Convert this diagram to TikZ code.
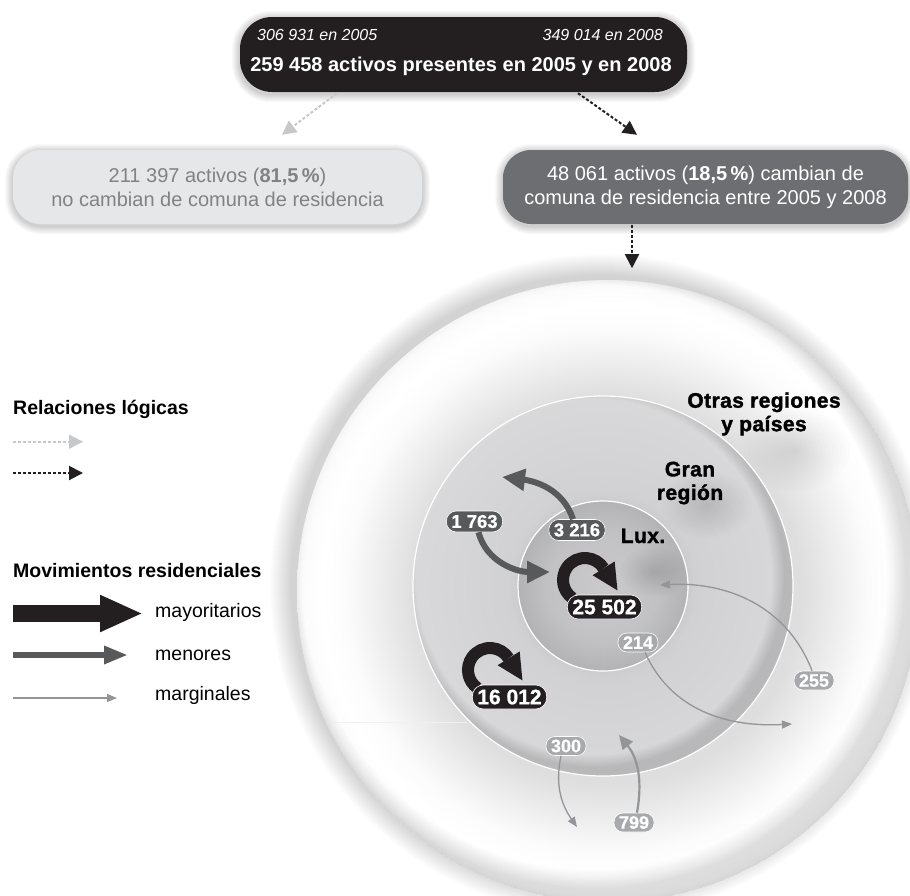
\documentclass[tikz,border=0pt]{standalone}
\usepackage{fontspec}
\setmainfont{Liberation Sans}
\usetikzlibrary{arrows.meta,calc}

\definecolor{blk}{HTML}{231F20}
\definecolor{dgray}{HTML}{58595B}
\definecolor{boxdark}{HTML}{6D6E71}
\definecolor{boxlight}{HTML}{E6E7E8}
\definecolor{txtgray}{HTML}{808285}
\definecolor{thingray}{HTML}{939598}
\definecolor{lgdash}{HTML}{C7C8CA}
\definecolor{pillsm}{HTML}{A7A9AC}

\pgfdeclareradialshading{outerdisk}{\pgfpoint{0bp}{0bp}}{rgb(0bp)=(.86,.86,.86); rgb(15.5bp)=(.87,.87,.87); rgb(17bp)=(.90,.90,.90); rgb(21bp)=(.985,.985,.985); rgb(23bp)=(1,1,1); rgb(24.5bp)=(.985,.985,.985); rgb(25bp)=(.96,.96,.96); rgb(50bp)=(.96,.96,.96)}
\pgfdeclareradialshading{middisk}{\pgfpoint{0bp}{0bp}}{rgb(0bp)=(.80,.80,.81); rgb(11.2bp)=(.80,.80,.81); rgb(12.5bp)=(.82,.82,.83); rgb(25bp)=(.85,.85,.855); rgb(50bp)=(.85,.85,.855)}
\pgfdeclareradialshading{innerdisk}{\pgfpoint{0bp}{0bp}}{rgb(0bp)=(.79,.79,.80); rgb(16bp)=(.76,.76,.77); rgb(25bp)=(.70,.70,.71); rgb(50bp)=(.70,.70,.71)}

\tikzset{
  lgarrow/.style={lgdash, line width=2pt, dash pattern=on 3pt off 2pt, -{Triangle[width=14pt,length=14pt]}},
  bkarrow/.style={blk, line width=2pt, dash pattern=on 3pt off 2pt, -{Triangle[width=14pt,length=14pt]}},
  medarrow/.style={dgray, line width=6pt, -{Triangle[width=21pt,length=23pt]}},
  thinarrow/.style={thingray, line width=1.3pt, -{Triangle[width=8pt,length=10pt]}},
  bigarrow/.style={blk, line width=17pt, -{Triangle[width=34pt,length=43pt]}},
  cloop/.style={blk, line width=12pt},
  pill/.style={rounded corners=#1, inner xsep=5pt, inner ysep=0pt, text=white, draw=white, line width=0.6pt},
  pillbig/.style={pill=11pt, fill=blk, minimum height=24pt, font=\fontsize{21}{21}\selectfont\bfseries\addfontfeature{FakeBold=0.8}},
  pillmed/.style={pill=10pt, fill=dgray, minimum height=21pt, font=\fontsize{18.5}{18.5}\selectfont\bfseries\addfontfeature{FakeBold=0.8}},
  pillsmall/.style={pill=9pt, fill=pillsm, minimum height=19pt, font=\fontsize{18}{18}\selectfont\bfseries\addfontfeature{FakeBold=0.8}},
  boxbase/.style={rounded corners=28pt, minimum height=74pt, align=center, font=\fontsize{20}{24}\selectfont},
  legtitle/.style={anchor=base west, inner sep=0pt, font=\fontsize{19.5}{19.5}\selectfont\bfseries},
  legtext/.style={anchor=base west, inner sep=0pt, font=\fontsize{19.5}{19.5}\selectfont},
  zonefont/.style={font=\fontsize{21}{23.5}\selectfont\bfseries\addfontfeature{LetterSpace=2,FakeBold=1.6}},
  zonelabel/.style={align=center, inner sep=0pt, zonefont},
}

\newcommand{\boxshadow}[5]{%
  \foreach \k in {2,4,...,16} {\draw[black, opacity=0.022, line width=\k pt, rounded corners=#5] (#1,#2) rectangle (#3,#4);}}
\newcommand{\blob}[4]{%
  \foreach \k in {1,...,14} {\fill[black, opacity=#4] (#1,#2) ellipse[x radius=#3*\k/14, y radius=0.75*#3*\k/14];}}
% inner shadow: centre x, centre y, radius, offset dx, offset dy, opacity, step
\newcommand{\innershadow}[7]{%
  \begin{scope}
    \clip (#1,#2) circle[radius=#3];
    \foreach \k in {0,...,15} {\fill[black, opacity=#6, even odd rule] (#1,#2) circle[radius=#3+2] (#1+#4,#2+#5) circle[radius=#3-\k*#7];}
  \end{scope}}

\begin{document}
\begin{tikzpicture}[x=1pt,y=1pt]
\useasboundingbox (0,0) rectangle (910,-895);
\fill[white] (0,0) rectangle (910,-895);

% ---------- circles ----------
\coordinate (ctr) at (603,-586);
\foreach \i in {1,...,22} {\fill[black, opacity=0.008] (601,-585) circle[radius=309+\i];}
\shade[shading=outerdisk] (608,-591) circle[radius=311];
\innershadow{608}{-591}{311}{-14}{14}{0.009}{1.2}
\blob{795}{-450}{55}{0.006}
\shade[shading=middisk] (ctr) circle[radius=190];
\innershadow{603}{-586}{190}{-9}{9}{0.007}{0.8}
\blob{707}{-505}{45}{0.008}
\draw[white, line width=1.2pt] (ctr) circle[radius=190];
\shade[shading=innerdisk] (ctr) circle[radius=85];
\blob{655}{-572}{34}{0.009}
\draw[white, line width=1.2pt] (ctr) circle[radius=85];
\draw[gray!12, line width=0.8pt] (333,-722) -- (467,-722);

% ---------- boxes ----------
\boxshadow{240}{-19}{687}{-94}{30pt}
\boxshadow{13}{-152}{422}{-226}{28pt}
\boxshadow{503}{-152}{908}{-226}{28pt}
\node[fill=blk, rounded corners=32pt, minimum width=447pt, minimum height=75pt, inner sep=0pt] (top) at (463.5,-54.5) {};
\node[anchor=base west, inner sep=0pt, text=white, font=\fontsize{16}{16}\selectfont\itshape] (y05) at (257,-40) {306 931 en 2005};
\node[anchor=base east, inner sep=0pt, text=white, font=\fontsize{16}{16}\selectfont\itshape] (y08) at (663,-40) {349 014 en 2008};
\node[anchor=base, inner sep=0pt, text=white, font=\fontsize{20}{20}\selectfont\bfseries] (pres) at (461,-71) {259 458 activos presentes en 2005 y en 2008};

\node[boxbase, fill=boxlight, text=txtgray, minimum width=409pt] (nochange) at (217.5,-187)
  {211 397 activos (\textbf{81,5\,\%})\\no cambian de comuna de residencia};
\node[boxbase, fill=boxdark, text=white, minimum width=405pt] (change) at (705.5,-187)
  {48 061 activos (\textbf{18,5\,\%}) cambian de\\comuna de residencia entre 2005 y 2008};

\draw[lgarrow] ($(top.south)+(-126.5,-1)$) -- ($(nochange.north)+(64.5,15)$);
\draw[bkarrow] ($(top.south)+(114.5,-1)$) -- ($(change.north)+(-68.5,15)$);
\draw[bkarrow] ($(change.south)+(-73.5,-1)$) -- ($(change.south)+(-73.5,-44)$);

% ---------- zone labels ----------
\node[zonelabel] (otras) at (764,-414) {Otras regiones\\y países};
\node[zonelabel] (gran) at (690,-483) {Gran\\región};
\node[anchor=base, inner sep=0pt, zonefont] (lux) at (643,-543) {Lux.};

% ---------- self loops ----------
\coordinate (c25) at (585,-580);
\coordinate (c16) at (490,-670);
\draw[cloop] ($(c25)+(235:22)$) arc[start angle=235, end angle=32, radius=22];
\fill[blk, shift={(c25)}, rotate=32] (9,0) -- (35,0) -- (22,-26) -- cycle;
\draw[cloop] ($(c16)+(235:22)$) arc[start angle=235, end angle=32, radius=22];
\fill[blk, shift={(c16)}, rotate=32] (9,0) -- (35,0) -- (22,-26) -- cycle;

% ---------- pills ----------
\node[pillbig] (p25502) at (604.5,-607) {25 502};
\node[pillbig] (p16012) at (509.5,-697) {16 012};
\node[pillmed] (p3216) at (577,-530) {3 216};
\node[pillmed] (p1763) at (474.5,-521.5) {1 763};
\node[pillsmall] (p214) at (638,-642.5) {214};
\node[pillsmall] (p255) at (814,-680.5) {255};
\node[pillsmall] (p300) at (566,-746) {300};
\node[pillsmall] (p799) at (634,-822.5) {799};

% ---------- movement arrows ----------
\coordinate (t3216) at (502,-477);
\coordinate (t1763) at (550,-572);
\coordinate (t255) at (660,-585);
\coordinate (t214) at (792,-724);
\coordinate (t300) at (577,-827);
\coordinate (t799) at (619,-735);
\draw[medarrow] ($(p3216.north)+(-4,0)$) to[out=108,in=-7] (t3216);
\draw[medarrow] ($(p1763.south)+(4,0)$) to[out=-75,in=180] (t1763);
\draw[thinarrow] ($(p255.north)+(-2,0)$) to[out=111,in=3] (t255);
\draw[thinarrow] ($(p214.south)+(7,0)$) to[out=-66,in=183] (t214);
\draw[thinarrow] ($(p300.south)+(-5,0)$) to[out=-102,in=125] (t300);
\draw[thinarrow, line width=2.2pt, -{Triangle[width=13pt,length=14pt]}] ($(p799.north)+(3,0)$) to[out=80,in=-51] (t799);

% ---------- legend ----------
\node[legtitle] (lgrel) at (13,-414) {Relaciones lógicas};
\coordinate (la1) at (13,-441.7); \coordinate (lb1) at (83,-441.7);
\coordinate (la2) at (13,-473); \coordinate (lb2) at (83,-473);
\draw[lgarrow] (la1) -- (lb1);
\draw[bkarrow] (la2) -- (lb2);
\node[legtitle] (lgmov) at (13,-577) {Movimientos residenciales};
\coordinate (ma1) at (13,-613.5); \coordinate (mb1) at (143,-613.5);
\coordinate (ma2) at (13,-655); \coordinate (mb2) at (128,-655);
\coordinate (ma3) at (13,-698); \coordinate (mb3) at (117,-698);
\draw[bigarrow] (ma1) -- (mb1);
\draw[medarrow, line width=6pt, -{Triangle[width=17pt,length=24pt]}] (ma2) -- (mb2);
\draw[thinarrow] (ma3) -- (mb3);
\node[legtext] (lmay) at (155,-617) {mayoritarios};
\node[legtext] (lmen) at (155,-660) {menores};
\node[legtext] (lmar) at (155,-700) {marginales};
\end{tikzpicture}
\end{document}
